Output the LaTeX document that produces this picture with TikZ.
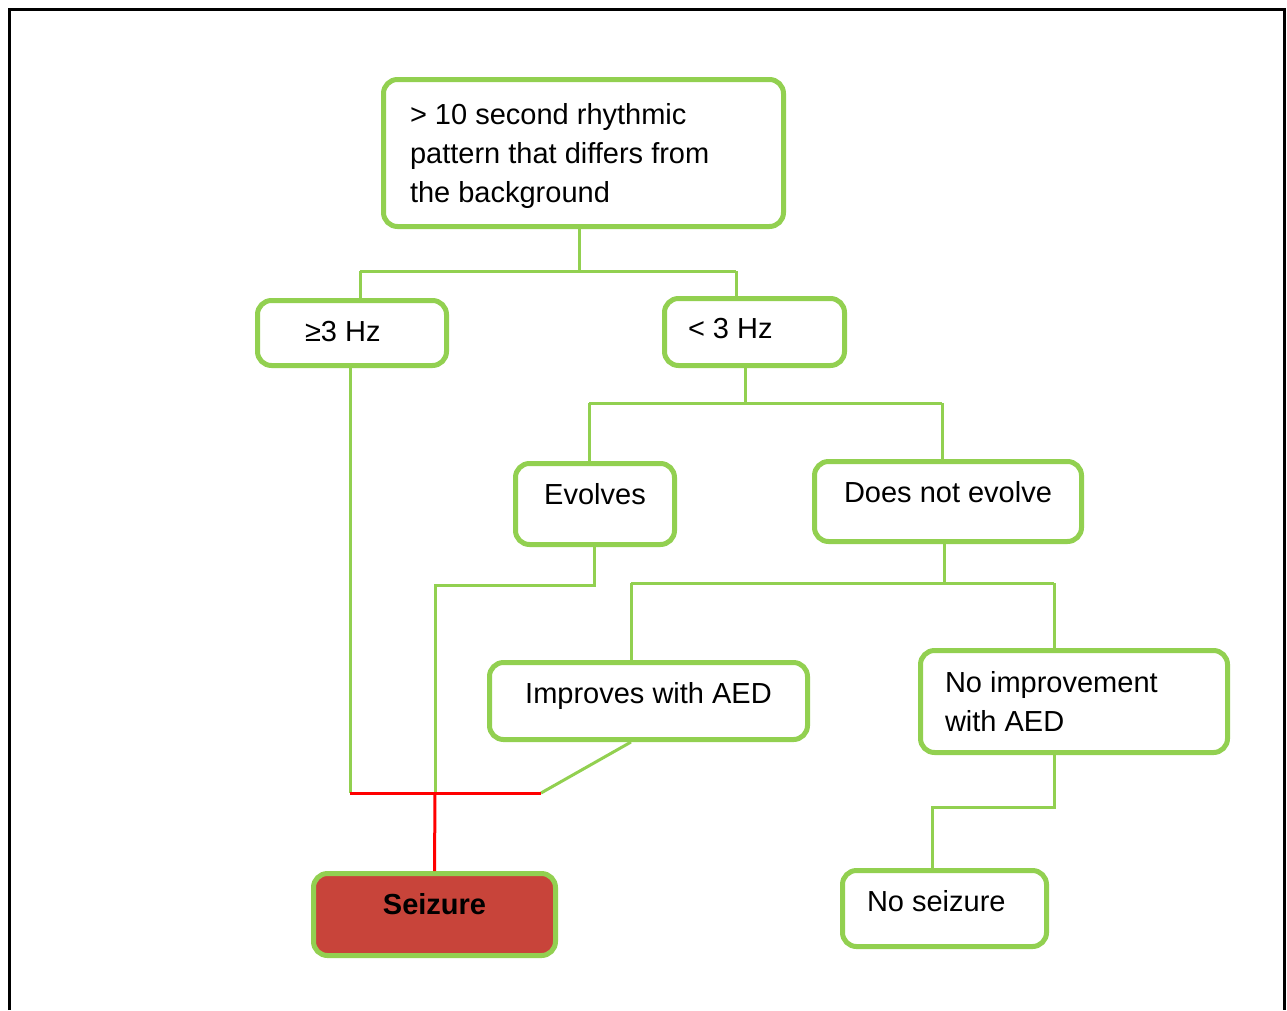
\documentclass[tikz,border=0pt]{standalone}
\usepackage{fontspec}
\setmainfont{Liberation Sans}
\definecolor{grn}{HTML}{92D050}
\definecolor{szred}{HTML}{C8443A}
\definecolor{lnred}{HTML}{FF0000}
\tikzset{
  bx/.style={draw=grn, line width=5pt, rounded corners=14pt, fill=white, inner sep=0pt, text=black},
  conn/.style={draw=grn, line width=3pt},
  redconn/.style={draw=lnred, line width=3pt},
  frame/.style={draw=black, line width=3pt}
}
\begin{document}
\begin{tikzpicture}[x=1pt, y=-1pt, font=\fontsize{29}{39}\selectfont]
\useasboundingbox (0,0) rectangle (1287,1010);
\draw[frame] (9,1010) -- (9,9) -- (1284,9) -- (1284,1010);

% coordinates for connector junctions
\coordinate (a1) at (579,271);
\coordinate (a2) at (360,271);
\coordinate (a3) at (736,271);
\coordinate (b1) at (745,403);
\coordinate (b2) at (589,403);
\coordinate (b3) at (942,403);
\coordinate (c1) at (594,585);
\coordinate (c2) at (435,585);
\coordinate (r0) at (435,793);
\coordinate (rl) at (350,793);
\coordinate (rr) at (541,793);
\coordinate (d1) at (944,583);
\coordinate (d2) at (631,583);
\coordinate (d3) at (1054,583);
\coordinate (e1) at (1054,807);
\coordinate (e2) at (932,807);

% connectors (drawn first, boxes on top)
\draw[conn] (a1 |- 0,229) -- (a1);
\draw[conn] (a2) -- (a3);
\draw[conn] (a2) -- (a2 |- 0,298);
\draw[conn] (a3) -- (a3 |- 0,296);
\draw[conn] (b1 |- 0,368) -- (b1);
\draw[conn] (b2) -- (b3);
\draw[conn] (b2) -- (b2 |- 0,461);
\draw[conn] (b3) -- (b3 |- 0,459);

% boxes
\node[bx, minimum width=400pt, minimum height=147pt, text height=11pt, text depth=69pt]
  (top) at (583.5,153)
  {\makebox[347pt][l]{\begin{tabular}[t]{@{}l@{}}> 10 second rhythmic\\pattern that differs from\\the background\end{tabular}}};
\node[bx, minimum width=189pt, minimum height=65pt, text height=33.5pt, text depth=16.5pt]
  (ge) at (352,333) {\makebox[94pt][l]{≥3 Hz}};
\node[bx, minimum width=180pt, minimum height=67pt, text height=31.5pt, text depth=18.5pt]
  (lt) at (754.5,332) {\makebox[133pt][l]{< 3 Hz}};
\node[bx, minimum width=159pt, minimum height=81pt, text height=25.5pt, text depth=24.5pt]
  (ev) at (595,504) {Evolves};
\node[bx, minimum width=267pt, minimum height=80pt, text height=26pt, text depth=24pt]
  (dne) at (948,501.5) {Does not evolve};
\node[bx, minimum width=318pt, minimum height=77pt, text height=27.5pt, text depth=22.5pt]
  (imp) at (648.5,701) {Improves with AED};
\node[bx, minimum width=307pt, minimum height=102pt, text height=31pt, text depth=49pt]
  (noi) at (1074,701.5)
  {\makebox[258pt][l]{\begin{tabular}[t]{@{}l@{}}No improvement\\with AED\end{tabular}}};
\node[bx, fill=szred, minimum width=242pt, minimum height=82pt, text height=24.5pt, text depth=25.5pt]
  (sz) at (434.5,914.5) {\bfseries Seizure};
\node[bx, minimum width=204pt, minimum height=76pt, text height=27.5pt, text depth=22.5pt]
  (nsz) at (944.5,908.5) {\makebox[155pt][l]{No seizure}};

% lower connectors
\draw[conn] (ev.south -| c1) -- (c1) -- (c2) -- (r0);
\draw[conn] (dne.south -| d1) -- (d1);
\draw[conn] (d2) -- (d3);
\draw[conn] (d2) -- (imp.north -| d2);
\draw[conn] (d3) -- (noi.north -| d3);
\draw[conn] (ge.south -| rl) -- (rl);
\draw[conn] (imp.south -| d2) -- (rr);
\draw[conn] (noi.south -| e1) -- (e1) -- (e2) -- (nsz.north -| e2);
\draw[redconn] (rl) -- (rr);
\draw[redconn] (r0) -- (sz.north);
\end{tikzpicture}
\end{document}
